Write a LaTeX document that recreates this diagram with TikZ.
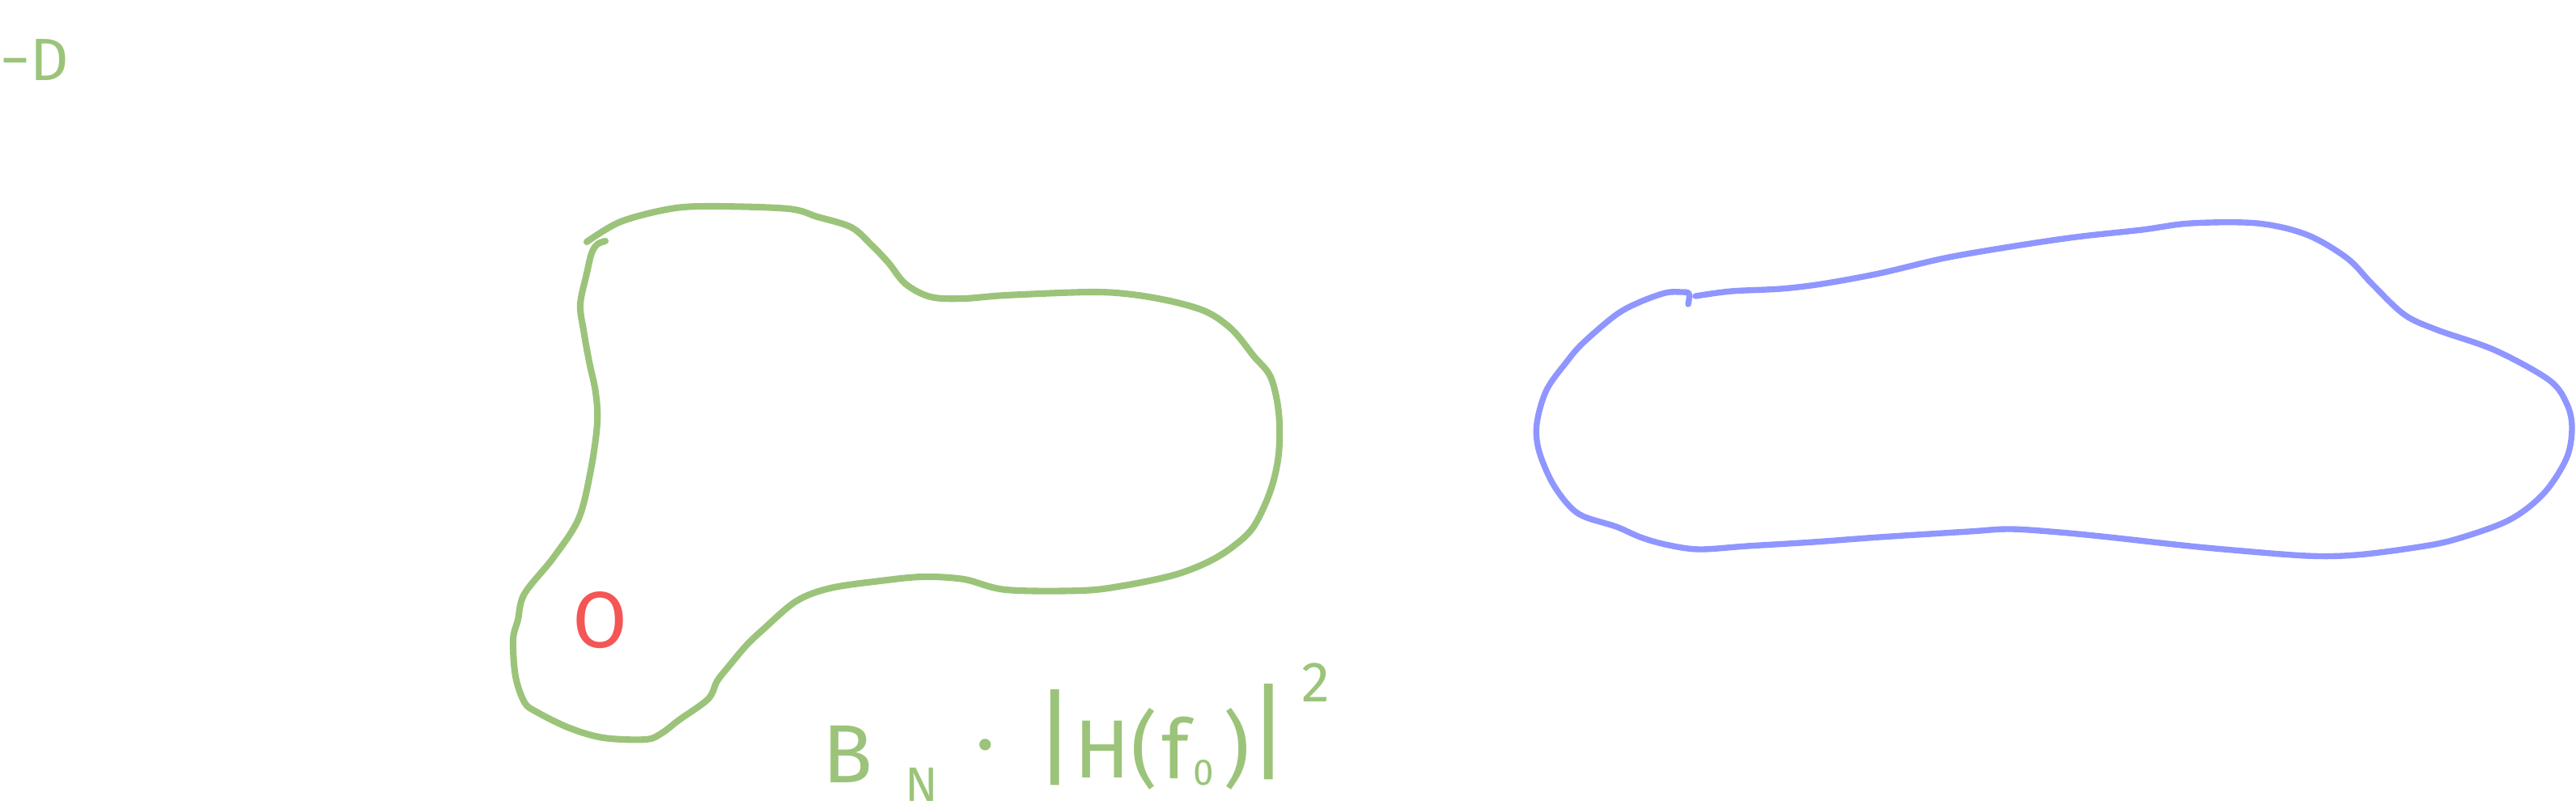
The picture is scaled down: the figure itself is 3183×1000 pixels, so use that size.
\documentclass[tikz,border=0pt]{standalone}
\usepackage{fontspec}
\setmainfont{Fira Sans}
\usepackage{tikz}
\definecolor{InkGreen}{HTML}{9BC47A}
\definecolor{InkBlue}{HTML}{8F96FF}
\definecolor{InkRed}{HTML}{F55555}
\begin{document}
\begin{tikzpicture}[x=0.01cm, y=-0.01cm,
  greenstroke/.style={draw=InkGreen, line width=2.3pt, line cap=round, line join=round},
  bluestroke/.style={draw=InkBlue, line width=2.1pt, line cap=round, line join=round},
  glyph/.style={text=InkGreen, inner sep=0pt, font=\fontsize{29}{34}\selectfont},
  smallglyph/.style={text=InkGreen, inner sep=0pt, font=\fontsize{17}{20}\selectfont},
  tinyglyph/.style={text=InkGreen, inner sep=0pt, font=\fontsize{13}{16}\selectfont},
  barglyph/.style={text=InkGreen, inner sep=0pt, font=\fontsize{37}{44}\selectfont},
  markglyph/.style={text=InkRed, inner sep=0pt, font=\fontsize{28}{33}\selectfont}
]
\useasboundingbox (0,0) rectangle (3183,1000);
\node[smallglyph, font=\fontsize{21}{25}\selectfont, anchor=west] (negD) at (0,74) {−D};
\draw[greenstroke] plot[smooth, tension=0.55] coordinates {
  (725,299) (767,274) (829,258) (881,255) (974,258) (1010,268) (1052,281)
  (1077,303) (1098,325) (1119,351) (1150,367) (1191,369) (1243,365) (1347,361)
  (1399,364) (1450,373) (1492,386) (1523,408) (1549,440) (1570,466) (1580,510)
  (1580,561) (1570,606) (1549,651) (1523,676) (1492,695) (1450,711) (1388,724)
  (1336,730) (1243,729) (1191,716) (1140,713) (1088,718) (1026,727) (984,743)
  (943,778) (922,798) (901,823) (886,842) (875,864) (839,890) (818,906)
  (798,914) (746,912) (704,900) (663,880) (648,868) (637,836) (634,791)
  (640,766) (648,734) (684,689) (715,641) (730,581) (738,523) (736,485)
  (728,447) (721,408) (717,376) (725,338) (731,313) (738,302) (748,298)};
\draw[bluestroke] plot[smooth, tension=0.55] coordinates {
  (2095,366) (2139,360) (2200,357) (2251,351) (2322,338) (2403,319) (2484,305)
  (2565,293) (2647,284) (2707,276) (2789,276) (2850,290) (2900,319) (2931,351)
  (2971,389) (3012,408) (3083,433) (3150,470) (3172,500) (3178,530) (3171,567)
  (3143,610) (3100,643) (3033,667) (2983,677) (2911,686) (2850,687) (2748,679)
  (2687,673) (2606,664) (2545,658) (2484,654) (2433,657) (2322,664) (2241,670)
  (2159,675) (2099,679) (2058,673) (2027,664) (1997,651) (1956,638) (1936,622)
  (1916,593) (1901,555) (1899,523) (1911,482) (1936,447) (1956,424) (1997,389)
  (2027,373) (2058,362) (2077,361) (2087,363) (2086,376)};
\node[markglyph] (zeroO) at (742,767) {O};
\node[glyph, anchor=base west] (Bsym) at (1016,967) {B};
\node[smallglyph, anchor=base west] (Nsub) at (1118,990) {N};
\node[glyph, anchor=base] (dotop) at (1218,952) {·};
\node[barglyph] (barL) at (1304,912) {|};
\node[glyph, anchor=base] (Hsym) at (1362,961) {H};
\node[glyph] (parL) at (1414,926) {(};
\node[glyph, anchor=base] (fsym) at (1453,962) {f};
\node[tinyglyph, anchor=base] (zerosub) at (1487,970) {0};
\node[glyph] (parR) at (1528,926) {)};
\node[barglyph] (barR) at (1568,905) {|};
\node[smallglyph, font=\fontsize{20}{24}\selectfont, anchor=base] (sqsup) at (1626,867) {2};
\end{tikzpicture}
\end{document}
